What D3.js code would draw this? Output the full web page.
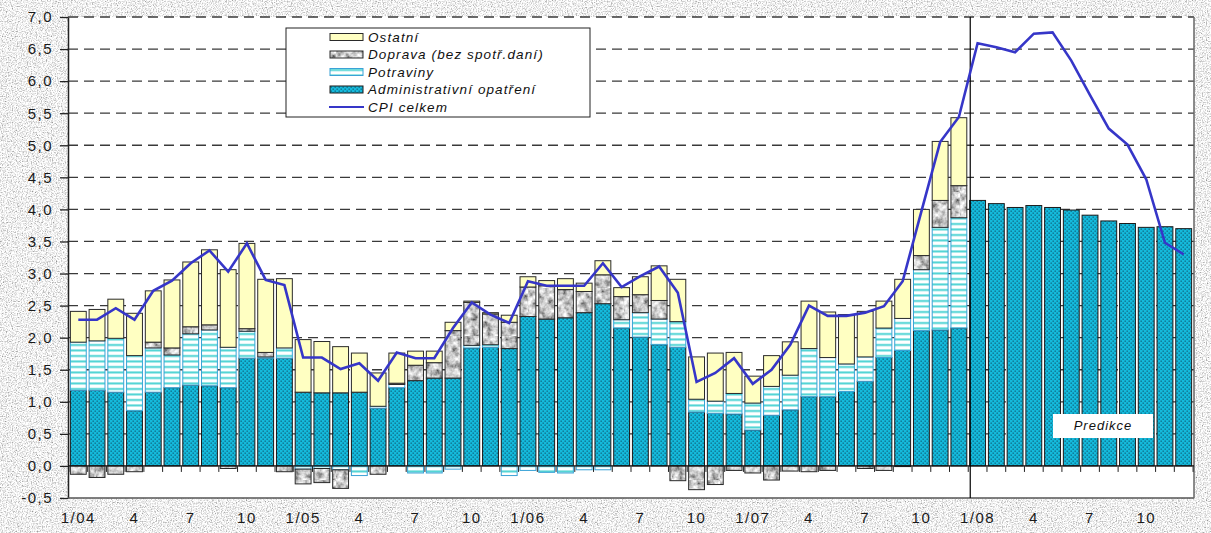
<!DOCTYPE html>
<html>
<head>
<meta charset="utf-8">
<script src="https://cdn.jsdelivr.net/npm/d3@7"></script>
<style>
  body { margin: 0; background: #fff; }
  svg { display: block; font-family: "Liberation Sans", Arial, sans-serif; }
</style>
</head>
<body>
<div id="chart"></div>
<script>
// --- data ---
const years = ['04', '05', '06', '07', '08'];
const tickLabels = ['1/04','4','7','10','1/05','4','7','10','1/06','4','7','10',
                    '1/07','4','7','10','1/08','4','7','10'];

// 1/04 .. 12/07
const admin = [1.18,1.18,1.15,0.86,1.15,1.22,1.26,1.25,1.22,1.68,1.68,1.68,
               1.15,1.14,1.14,1.15,0.90,1.22,1.33,1.37,1.37,1.84,1.85,1.83,
               2.33,2.29,2.31,2.39,2.53,2.15,2.01,1.89,1.85,0.84,0.82,0.81,
               0.56,0.79,0.875,1.08,1.08,1.16,1.32,1.69,1.80,2.11,2.12,2.15];
const potraviny = [0.75,0.77,0.84,0.86,0.69,0.51,0.80,0.87,0.63,0.42,0.02,0.16,
                   -0.05,-0.04,-0.06,-0.15,0.03,0.05,-0.11,-0.11,-0.05,0.04,0.04,-0.15,
                   -0.07,-0.10,-0.11,-0.06,-0.06,0.13,0.38,0.40,0.40,0.20,0.19,0.32,
                   0.42,0.45,0.54,0.75,0.61,0.43,0.38,0.46,0.50,0.95,1.60,1.72];
const doprava = [-0.13,-0.18,-0.13,-0.09,0.09,0.11,0.11,0.08,-0.04,0.04,0.07,-0.09,
                 -0.23,-0.22,-0.29,0,-0.13,0.02,0.24,0.24,0.74,0.67,0.48,0.41,
                 0.46,0.52,0.44,0.33,0.45,0.36,0.28,0.29,-0.23,-0.37,-0.29,-0.07,
                 -0.11,-0.22,-0.08,-0.09,-0.07,0,-0.04,-0.07,-0.01,0.22,0.42,0.50];
const ostatni = [0.48,0.49,0.61,0.66,0.80,1.06,1.01,1.17,1.21,1.33,1.14,1.08,
                 0.82,0.80,0.72,0.61,0.52,0.47,0.22,0.18,0.13,0.02,0.02,0.11,
                 0.16,0.08,0.17,0.13,0.22,0.14,0.28,0.54,0.66,0.66,0.75,0.64,
                 0.42,0.48,0.52,0.74,0.71,0.77,0.71,0.42,0.61,0.72,0.92,1.06];
// 1/08 .. 12/08
const predikce = [4.14,4.09,4.03,4.06,4.03,3.99,3.91,3.82,3.78,3.72,3.73,3.70];
// 1/04 .. 12/08
const cpi = [2.28,2.28,2.46,2.28,2.73,2.89,3.16,3.36,3.03,3.47,2.90,2.82,
             1.69,1.69,1.51,1.60,1.33,1.77,1.68,1.68,2.15,2.55,2.36,2.23,
             2.88,2.81,2.81,2.81,3.16,2.79,2.96,3.11,2.70,1.31,1.45,1.68,
             1.28,1.50,1.89,2.50,2.34,2.34,2.39,2.49,2.88,3.97,5.05,5.44,
             6.59,6.53,6.45,6.74,6.76,6.32,5.78,5.26,5.01,4.47,3.48,3.30];

const keys = ['admin', 'potraviny', 'doprava', 'ostatni'];
const legendItems = ['Ostatní', 'Doprava (bez spotř.daní)', 'Potraviny',
                     'Administrativní opatření', 'CPI celkem'];

const months = [];
years.forEach(yy => d3.range(1, 13).forEach(mm => months.push(mm + '/' + yy)));

const rows = months.map((k, i) => i < 48
  ? { key: k, admin: admin[i], potraviny: potraviny[i], doprava: doprava[i], ostatni: ostatni[i], cpi: cpi[i] }
  : { key: k, admin: predikce[i - 48], potraviny: 0, doprava: 0, ostatni: 0, cpi: cpi[i] });

// --- layout ---
const W = 1211, H = 533;
const L = 68, R = 1194, T = 17, B = 498;

const svg = d3.select('#chart').append('svg').attr('width', W).attr('height', H);
const defs = svg.append('defs');

// granite background
const bgf = defs.append('filter').attr('id', 'granite')
  .attr('x', 0).attr('y', 0).attr('width', '100%').attr('height', '100%');
bgf.append('feTurbulence').attr('type', 'fractalNoise').attr('baseFrequency', 0.8)
  .attr('numOctaves', 3).attr('seed', 4);
bgf.append('feColorMatrix').attr('type', 'matrix')
  .attr('values', '1.5 0 0 0 0.12  1.5 0 0 0 0.12  1.5 0 0 0 0.12  0 0 0 0 1');

// marble for doprava
const mf = defs.append('filter').attr('id', 'marble')
  .attr('x', 0).attr('y', 0).attr('width', '100%').attr('height', '100%');
mf.append('feTurbulence').attr('type', 'fractalNoise').attr('baseFrequency', 0.15)
  .attr('numOctaves', 3).attr('seed', 7);
mf.append('feColorMatrix').attr('type', 'matrix')
  .attr('values', '1.7 0 0 0 -0.27  1.7 0 0 0 -0.27  1.7 0 0 0 -0.27  0 0 0 0 1');

const pDop = defs.append('pattern').attr('id', 'pDop').attr('patternUnits', 'userSpaceOnUse')
  .attr('width', 48).attr('height', 48);
pDop.append('rect').attr('width', 48).attr('height', 48).attr('filter', 'url(#marble)');

const pAdm = defs.append('pattern').attr('id', 'pAdm').attr('patternUnits', 'userSpaceOnUse')
  .attr('width', 4).attr('height', 4);
pAdm.append('rect').attr('width', 4).attr('height', 4).attr('fill', '#14badc');
pAdm.append('rect').attr('x', 0.6).attr('y', 0.6).attr('width', 1.1).attr('height', 1.1).attr('fill', '#0a4257');
pAdm.append('rect').attr('x', 2.6).attr('y', 2.6).attr('width', 1.1).attr('height', 1.1).attr('fill', '#0a4257');

const pPot = defs.append('pattern').attr('id', 'pPot').attr('patternUnits', 'userSpaceOnUse')
  .attr('width', 6).attr('height', 5.5);
pPot.append('rect').attr('width', 6).attr('height', 5.5).attr('fill', '#fff');
pPot.append('rect').attr('y', 3).attr('width', 6).attr('height', 2).attr('fill', '#4dd3d3');

const fills = { admin: 'url(#pAdm)', potraviny: 'url(#pPot)', doprava: 'url(#pDop)', ostatni: '#ffffc2' };
const strokes = { admin: '#1a1a1a', potraviny: '#3aa2d6', doprava: '#2a2a2a', ostatni: '#2a2a2a' };

svg.append('rect').attr('width', W).attr('height', H).attr('filter', 'url(#granite)');
svg.append('rect').attr('x', L).attr('y', T).attr('width', R - L).attr('height', B - T).attr('fill', '#fff');

const x = d3.scaleBand().domain(months).range([L, R]).padding(0.1);
const y = d3.scaleLinear().domain([-0.5, 7]).range([B, T]);
const bw = x.bandwidth(), gap = x.step() * x.paddingInner();

// grid
const gridVals = d3.range(0.5, 7.01, 0.5);
svg.append('g').selectAll('line').data(gridVals).join('line')
  .attr('x1', L).attr('x2', R)
  .attr('y1', d => y(d)).attr('y2', d => y(d))
  .attr('stroke', '#3a3a3a').attr('stroke-width', 1.3).attr('stroke-dasharray', '10,6');

// bars
const stack = d3.stack().keys(keys).offset(d3.stackOffsetDiverging);
const series = stack(rows);

svg.append('g').selectAll('g').data(series).join('g')
  .attr('fill', s => fills[s.key]).attr('stroke', s => strokes[s.key]).attr('stroke-width', 1)
  .selectAll('rect').data(s => s.filter(d => Math.abs(d[1] - d[0]) > 1e-6)).join('rect')
  .attr('x', d => x(d.data.key) + 0.5)
  .attr('width', bw - 1)
  .attr('y', d => y(Math.max(d[0], d[1])))
  .attr('height', d => Math.abs(y(d[0]) - y(d[1])));

// y axis
const fmt = d => d.toFixed(1).replace('.', ',');
const yAxis = svg.append('g').attr('transform', `translate(${L},0)`)
  .call(d3.axisLeft(y).tickValues(d3.range(-0.5, 7.01, 0.5)).tickFormat(fmt)
    .tickSize(8).tickSizeOuter(0).tickPadding(7));
yAxis.select('.domain').attr('stroke', '#222').attr('stroke-width', 1.5);
yAxis.selectAll('.tick line').attr('stroke', '#222').attr('stroke-width', 1.3);
yAxis.selectAll('text').attr('font-size', 15).attr('letter-spacing', 1.5).attr('fill', '#1a1a1a');

// frame
svg.append('line').attr('x1', L).attr('x2', R).attr('y1', B).attr('y2', B)
  .attr('stroke', '#555').attr('stroke-width', 1.5);
svg.append('line').attr('x1', R).attr('x2', R).attr('y1', T).attr('y2', B)
  .attr('stroke', '#666').attr('stroke-width', 1.5);

// zero line with category ticks
svg.append('line').attr('x1', L).attr('x2', R).attr('y1', y(0)).attr('y2', y(0))
  .attr('stroke', '#111').attr('stroke-width', 1.2);
const bounds = months.map(k => x(k) - gap / 2).concat([x(months[months.length - 1]) + bw + gap / 2]);
svg.append('g').selectAll('line').data(bounds).join('line')
  .attr('x1', d => d).attr('x2', d => d)
  .attr('y1', y(0)).attr('y2', y(0) + 6)
  .attr('stroke', '#222').attr('stroke-width', 1);

// x labels
const tickKeys = months.filter((k, i) => i % 3 === 0);
const xAxis = svg.append('g').attr('transform', `translate(0,${B})`)
  .call(d3.axisBottom(x).tickValues(tickKeys).tickFormat((d, i) => tickLabels[i])
    .tickSize(0).tickPadding(14));
xAxis.select('.domain').remove();
xAxis.selectAll('text').attr('font-size', 15).attr('letter-spacing', 1.5).attr('fill', '#1a1a1a');

// prediction divider
const xDiv = x('1/08') - gap / 2 + 2;
svg.append('line').attr('x1', xDiv).attr('x2', xDiv).attr('y1', T).attr('y2', B)
  .attr('stroke', '#000').attr('stroke-width', 1.2);

// CPI line
svg.append('path').datum(rows)
  .attr('fill', 'none').attr('stroke', '#3636c8').attr('stroke-width', 2.6)
  .attr('stroke-linejoin', 'miter')
  .attr('d', d3.line().x(d => x(d.key) + bw / 2).y(d => y(d.cpi)));

// Predikce label
svg.append('rect').attr('x', 1053).attr('y', 414).attr('width', 100).attr('height', 24).attr('fill', '#fff');
svg.append('text').attr('x', 1103).attr('y', 430).attr('text-anchor', 'middle')
  .attr('font-size', 13).attr('font-style', 'italic').attr('letter-spacing', 1).attr('fill', '#111')
  .text('Predikce');

// legend
const lg = svg.append('g');
lg.append('rect').attr('x', 286).attr('y', 28).attr('width', 304).attr('height', 89)
  .attr('fill', '#fff').attr('stroke', '#222').attr('stroke-width', 1);
const legFill = ['#ffffc2', 'url(#pDop)', 'url(#pPot)', 'url(#pAdm)'];
const legStroke = ['#2a2a2a', '#2a2a2a', '#3aa2d6', '#1a1a1a'];
legendItems.forEach((name, i) => {
  const cy = 37 + i * 17.5;
  if (i < 4) {
    lg.append('rect').attr('x', 330).attr('y', cy - 3.5).attr('width', 33).attr('height', 7)
      .attr('fill', legFill[i]).attr('stroke', legStroke[i]).attr('stroke-width', 1);
  } else {
    lg.append('line').attr('x1', 329).attr('x2', 364).attr('y1', cy).attr('y2', cy)
      .attr('stroke', '#3636c8').attr('stroke-width', 2);
  }
  lg.append('text').attr('x', 368).attr('y', cy + 4.5)
    .attr('font-size', 13.5).attr('font-style', 'italic').attr('letter-spacing', 1.1).attr('fill', '#111')
    .text(name);
});
</script>
</body>
</html>
